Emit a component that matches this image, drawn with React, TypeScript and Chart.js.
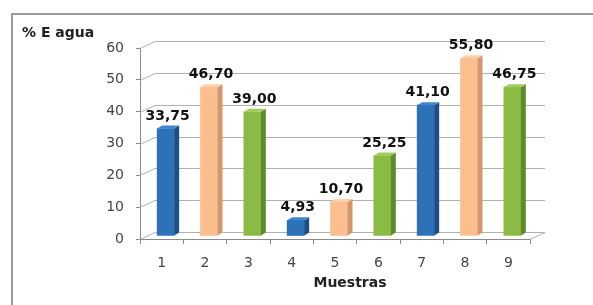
import React, { useEffect, useRef } from "react";
import { Chart, registerables } from "chart.js";

Chart.register(...registerables);

const categories = ["1", "2", "3", "4", "5", "6", "7", "8", "9"];
const values = [33.75, 46.7, 39.0, 4.93, 10.7, 25.25, 41.1, 55.8, 46.75];
const valueLabels = ["33,75", "46,70", "39,00", "4,93", "10,70", "25,25", "41,10", "55,80", "46,75"];
const frontColors = ["#2D71B8", "#FBBE8E", "#8CBB45", "#2D71B8", "#FBBE8E", "#8CBB45", "#2D71B8", "#FBBE8E", "#8CBB45"];
const sideColors = ["#1D4F85", "#D3976A", "#5F8B2B", "#1D4F85", "#D3976A", "#5F8B2B", "#1D4F85", "#D3976A", "#5F8B2B"];
const topColors = ["#3E86CC", "#FDD0A8", "#A0CC5C", "#3E86CC", "#FDD0A8", "#A0CC5C", "#3E86CC", "#FDD0A8", "#A0CC5C"];
const yTitle = "% E agua";
const xTitle = "Muestras";

const FONT = "'DejaVu Sans', Verdana, sans-serif";
const DX = 15;
const DY = -7;
const BX = 4;
const BY = -3;
const SX = 5;
const SY = -3;

const decoPlugin = {
  id: "deco",
  beforeDraw(chart: any) {
    const ctx = chart.ctx;
    ctx.save();
    ctx.strokeStyle = "#9a9a9a";
    ctx.lineWidth = 2;
    ctx.beginPath();
    ctx.moveTo(12, 305);
    ctx.lineTo(12, 14);
    ctx.lineTo(593, 14);
    ctx.stroke();
    ctx.fillStyle = "#222";
    ctx.font = `bold 14px ${FONT}`;
    ctx.textBaseline = "middle";
    ctx.textAlign = "left";
    ctx.fillText(yTitle, 22, 33);
    ctx.textAlign = "center";
    ctx.fillText(xTitle, 350, 283);
    ctx.restore();
  },
  beforeDatasetsDraw(chart: any) {
    const ctx = chart.ctx;
    const { left, right } = chart.chartArea;
    const y = chart.scales.y;
    ctx.save();
    ctx.strokeStyle = "#b0b0b0";
    ctx.lineWidth = 1;
    y.ticks.forEach((t: any) => {
      const py = Math.round(y.getPixelForValue(t.value)) + 0.5;
      ctx.beginPath();
      ctx.moveTo(left, py);
      ctx.lineTo(left + DX, py + DY);
      ctx.lineTo(right + DX, py + DY);
      ctx.stroke();
    });
    const by = Math.round(y.getPixelForValue(0)) + 0.5;
    ctx.beginPath();
    ctx.moveTo(right, by);
    ctx.lineTo(right + DX, by + DY);
    ctx.stroke();
    ctx.restore();
    ctx.save();
    ctx.translate(BX, BY);
  },
  afterDatasetsDraw(chart: any) {
    const ctx = chart.ctx;
    const meta = chart.getDatasetMeta(0);
    meta.data.forEach((bar: any, i: number) => {
      const { x, y, base, width } = bar.getProps(["x", "y", "base", "width"], true);
      const l = x - width / 2;
      const r = x + width / 2;
      ctx.fillStyle = sideColors[i];
      ctx.beginPath();
      ctx.moveTo(r, y);
      ctx.lineTo(r + SX, y + SY);
      ctx.lineTo(r + SX, base + SY);
      ctx.lineTo(r, base);
      ctx.closePath();
      ctx.fill();
      ctx.fillStyle = topColors[i];
      ctx.beginPath();
      ctx.moveTo(l, y);
      ctx.lineTo(l + SX, y + SY);
      ctx.lineTo(r + SX, y + SY);
      ctx.lineTo(r, y);
      ctx.closePath();
      ctx.fill();
    });
    ctx.restore();
    ctx.save();
    ctx.fillStyle = "#111";
    ctx.font = `bold 14px ${FONT}`;
    ctx.textAlign = "center";
    ctx.textBaseline = "alphabetic";
    meta.data.forEach((bar: any, i: number) => {
      const { x, y } = bar.getProps(["x", "y"], true);
      ctx.fillText(valueLabels[i], x + BX + 2, y + BY - 9);
    });
    ctx.restore();
  },
};

export default function App() {
  const ref = useRef<HTMLCanvasElement>(null);
  useEffect(() => {
    document.body.style.margin = "0";
    const chart = new Chart(ref.current as HTMLCanvasElement, {
      type: "bar",
      data: {
        labels: categories,
        datasets: [
          {
            data: values,
            backgroundColor: frontColors,
            borderWidth: 0,
            barThickness: 17,
          },
        ],
      },
      options: {
        responsive: false,
        animation: false,
        layout: { padding: { top: 48, right: 63, bottom: 0, left: 0 } },
        plugins: { legend: { display: false }, tooltip: { enabled: false } },
        scales: {
          x: {
            grid: { display: true, drawOnChartArea: false, drawTicks: true, tickLength: 5, color: "#8a8a8a", offset: true },
            border: { display: true, color: "#8a8a8a" },
            ticks: { color: "#454545", font: { size: 14, family: FONT }, padding: 11, maxRotation: 0 },
            afterFit: (s: any) => { s.height = 66; },
          },
          y: {
            min: 0,
            max: 60,
            ticks: { stepSize: 10, color: "#454545", font: { size: 14, family: FONT }, padding: 12 },
            grid: { display: true, drawOnChartArea: false, drawTicks: true, tickLength: 4, color: "#8a8a8a" },
            border: { display: true, color: "#8a8a8a" },
            afterFit: (s: any) => { s.width = 140; },
          },
        },
      },
      plugins: [decoPlugin],
    });
    return () => chart.destroy();
  }, []);
  return <canvas ref={ref} width={593} height={305} style={{ display: "block" }} />;
}
